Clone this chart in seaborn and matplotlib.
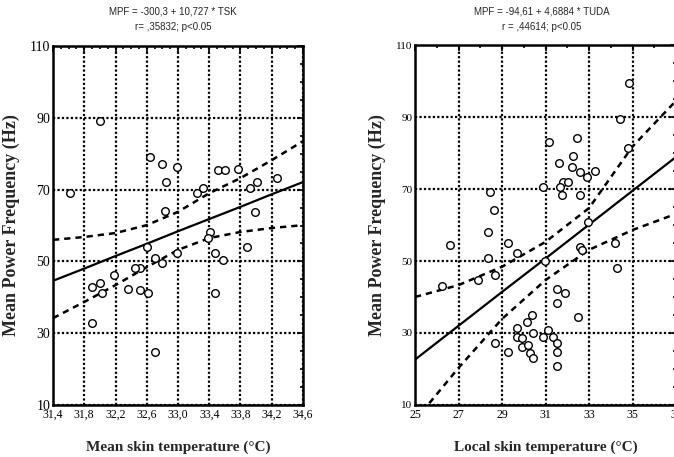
import numpy as np
import matplotlib
matplotlib.use("Agg")
import matplotlib.pyplot as plt
from matplotlib.ticker import MultipleLocator
import seaborn as sns

# left chart: mean skin temperature vs MPF
tsk = [31.62, 32.00, 32.64, 32.80, 32.99, 32.85, 32.83, 33.24, 33.32, 33.51,
       33.60, 33.77, 33.92, 34.01, 34.27, 33.99, 32.60, 32.80, 32.51, 32.45,
       32.18, 31.90, 32.00, 32.03, 32.36, 32.51, 32.62, 31.90, 32.70, 32.99,
       33.41, 33.38, 33.88, 33.47, 33.58, 32.70, 33.47]
mpf_l = [69.1, 89.1, 79.1, 77.1, 76.3, 72.1, 64.0, 69.1, 70.4, 75.4,
         75.4, 75.6, 70.4, 72.1, 73.2, 63.8, 54.0, 49.6, 48.2, 48.2,
         46.2, 42.9, 44.0, 41.2, 42.3, 42.0, 41.2, 32.8, 24.8, 52.3,
         58.2, 56.5, 54.0, 52.3, 50.4, 51.0, 41.2]

# right chart: local skin temperature vs MPF
tuda = [28.45, 28.63, 34.84, 34.43, 31.16, 32.45, 32.26, 34.79, 31.62, 32.22,
        32.59, 33.28, 32.91, 31.80, 32.03, 30.89, 31.67, 31.76, 32.59, 28.36,
        26.61, 29.28, 28.36, 29.69, 26.24, 27.90, 28.68, 28.68, 29.28, 29.69,
        29.69, 30.98, 32.59, 32.68, 34.20, 34.29, 32.95, 31.53, 31.90, 31.53,
        32.49, 30.38, 30.15, 30.43, 31.11, 30.89, 31.34, 29.92, 29.92, 30.20,
        31.53, 31.53, 30.29, 30.43, 31.53]
mpf_r = [69.2, 64.2, 99.4, 89.4, 83.1, 84.2, 79.2, 81.4, 77.2, 76.1,
         74.7, 75.0, 73.3, 71.9, 71.9, 70.6, 70.6, 68.3, 68.3, 58.1,
         54.4, 55.0, 50.8, 52.2, 43.1, 44.7, 46.1, 27.2, 24.7, 31.4,
         28.9, 50.0, 53.9, 53.1, 55.0, 48.1, 60.8, 42.2, 41.1, 38.3,
         34.4, 35.0, 33.1, 30.0, 30.8, 28.9, 28.9, 28.6, 26.1, 26.7,
         27.2, 24.7, 24.4, 23.1, 20.8]

# fitted lines and 95% bands
band_x_l = [31.4, 31.8, 32.2, 32.6, 33.0, 33.4, 33.8, 34.2, 34.6]
fit_l = [44.6, 48.0, 51.5, 54.9, 58.4, 61.8, 65.2, 68.7, 72.1]
upper_l = [56.0, 56.8, 57.9, 60.1, 63.8, 69.0, 73.2, 78.2, 83.5]
lower_l = [34.2, 38.7, 43.4, 48.4, 53.2, 56.5, 58.2, 59.3, 60.1]

band_x_r = [25, 27, 29, 31, 33, 35, 37]
fit_r = [22.6, 32.0, 41.4, 50.7, 60.1, 69.5, 78.9]
upper_r = [40.0, 43.3, 48.4, 55.3, 64.7, 81.8, 94.5]
lower_r = [5.7, 20.3, 33.9, 44.7, 53.1, 58.6, 63.1]

titles = [("MPF = -300,3 + 10,727 * TSK", "r= ,35832; p<0.05"),
          ("MPF = -94,61 + 4,6884 * TUDA", "r = ,44614; p<0.05")]
xlabels = ["Mean skin temperature (°C)", "Local skin temperature (°C)"]
ylabel = "Mean Power Frequency (Hz)"
xticks_l = [31.4, 31.8, 32.2, 32.6, 33.0, 33.4, 33.8, 34.2, 34.6]
xticks_r = [25, 27, 29, 31, 33, 35, 37]
yticks = [10, 30, 50, 70, 90, 110]

sns.set_style("white")
plt.rcParams["font.family"] = ["Liberation Serif", "DejaVu Serif"]

fig = plt.figure(figsize=(6.74, 4.57), dpi=100)
ax1 = fig.add_axes([53 / 674, 1 - 405 / 457, 250 / 674, 359 / 457])
ax2 = fig.add_axes([415 / 674, 1 - 405 / 457, 261 / 674, 360 / 457])

panels = [
    (ax1, tsk, mpf_l, band_x_l, fit_l, upper_l, lower_l, (31.4, 34.6), xticks_l, 0.1, 10),
    (ax2, tuda, mpf_r, band_x_r, fit_r, upper_r, lower_r, (25, 37), xticks_r, 1, 8),
]

for i, (ax, x, y, bx, fit, up, lo, xlim, xt, xminor, yfs) in enumerate(panels):
    ax.set_xlim(*xlim)
    ax.set_ylim(10, 110)
    ax.set_xticks(xt)
    ax.set_yticks(yticks)
    ax.xaxis.set_minor_locator(MultipleLocator(xminor))
    ax.yaxis.set_minor_locator(MultipleLocator(5))
    if i == 0:
        ax.set_xticklabels([f"{v:.1f}".replace(".", ",") for v in xt])
    else:
        ax.set_xticklabels([str(v) for v in xt])
    ax.grid(True, which="major", color="black", linestyle=(0, (1, 1)), linewidth=1.6)
    ax.tick_params(which="both", direction="in", top=True, right=True,
                   colors="black", width=1.2)
    ax.tick_params(which="major", length=4)
    ax.tick_params(which="minor", length=2.5)
    ax.tick_params(axis="x", labelsize=8.5, pad=3)
    ax.tick_params(axis="y", labelsize=yfs, pad=2)
    for s in ax.spines.values():
        s.set_color("black")
        s.set_linewidth(1.8)

    sns.lineplot(x=bx, y=fit, ax=ax, color="black", linewidth=1.6)
    sns.lineplot(x=bx, y=up, ax=ax, color="black", linewidth=1.8,
                 linestyle=(0, (2.5, 2)))
    sns.lineplot(x=bx, y=lo, ax=ax, color="black", linewidth=1.8,
                 linestyle=(0, (2.5, 2)))
    sns.scatterplot(x=x, y=y, ax=ax, marker="o", s=30, facecolor="white",
                    edgecolor="black", linewidth=1.0, zorder=5)

    ax.set_xlabel(xlabels[i], fontsize=11, fontweight="bold", labelpad=14)
    ax.set_ylabel(ylabel, fontsize=13, fontweight="bold", labelpad=7)

for j, cx in enumerate([173 / 674, 542 / 674]):
    fig.text(cx, 1 - 12 / 457, titles[j][0], ha="center", va="center",
             fontsize=7, family="Liberation Sans")
    fig.text(cx, 1 - 27 / 457, titles[j][1], ha="center", va="center",
             fontsize=7, family="Liberation Sans")

fig.savefig("out.png", dpi=100)
